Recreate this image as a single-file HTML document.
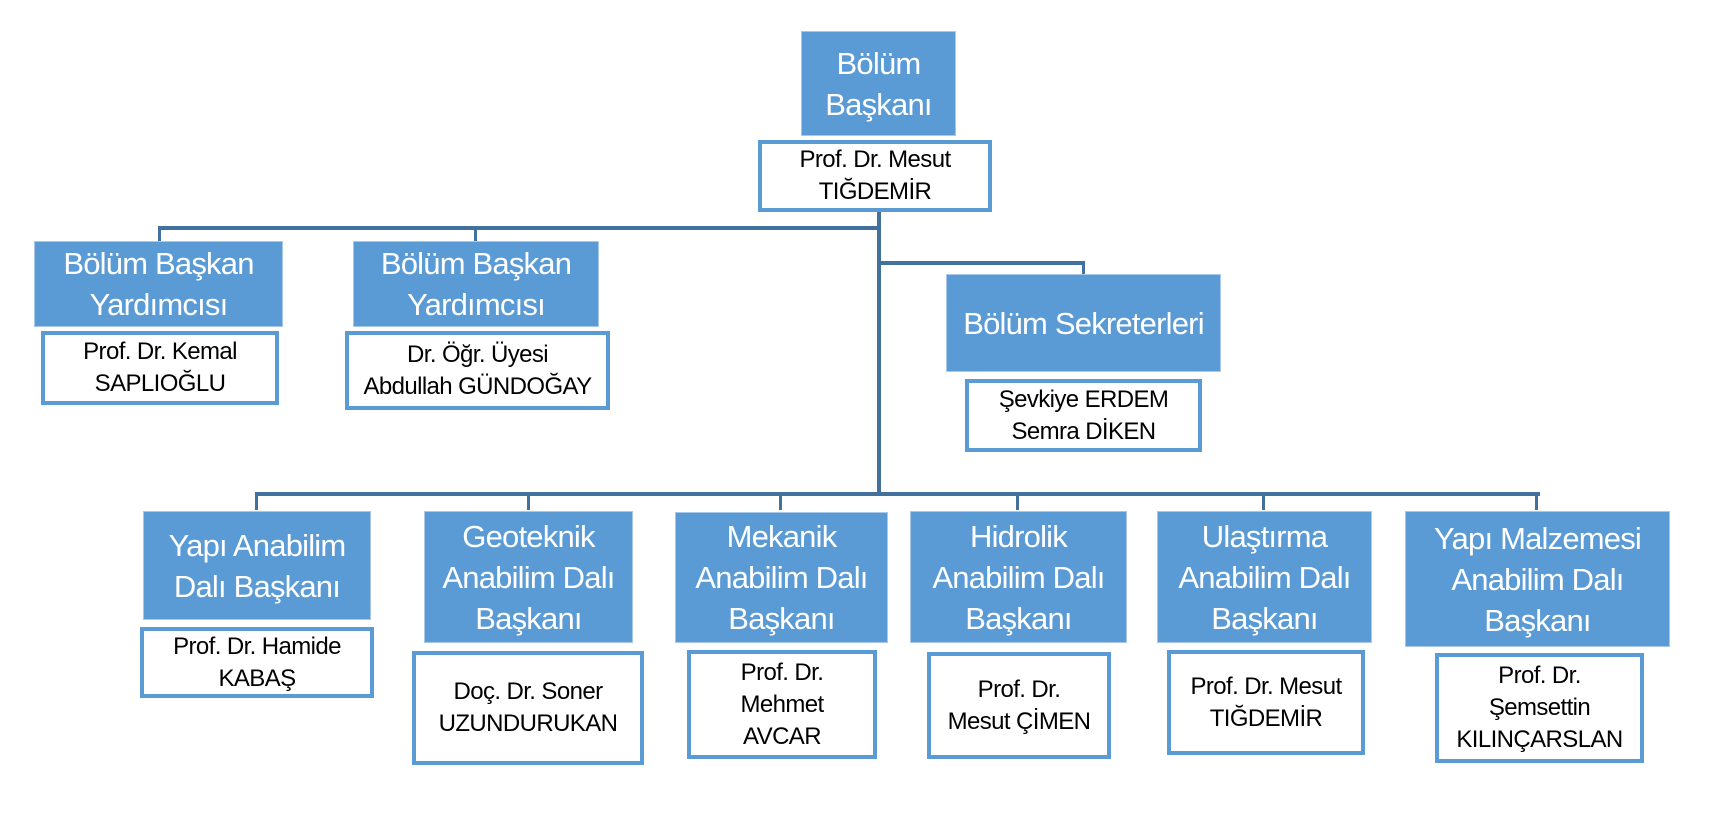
<!DOCTYPE html>
<html><head><meta charset="utf-8"><style>
html,body{margin:0;padding:0;background:#fff}
body{width:1712px;height:813px;position:relative;overflow:hidden;font-family:"Liberation Sans",sans-serif}
.b{position:absolute;background:#5B9BD5;color:#fff;display:flex;align-items:center;justify-content:center;text-align:center;font-size:31px;line-height:41px;border:1px solid #a9c8e8;box-sizing:border-box;letter-spacing:-0.8px;white-space:nowrap}
.n{position:absolute;background:#fff;color:#000;border:4px solid #5B9BD5;box-sizing:border-box;display:flex;align-items:center;justify-content:center;text-align:center;font-size:24px;line-height:32px;letter-spacing:-0.6px;white-space:nowrap}
.l{position:absolute;background:#41719C}
</style></head><body>
<div class="l" style="left:158px;top:226px;width:723px;height:4px"></div>
<div class="l" style="left:877px;top:210px;width:4px;height:286px"></div>
<div class="l" style="left:158px;top:226px;width:3px;height:15px"></div>
<div class="l" style="left:474px;top:226px;width:3px;height:15px"></div>
<div class="l" style="left:877px;top:261px;width:208px;height:4px"></div>
<div class="l" style="left:1082px;top:261px;width:3px;height:13px"></div>
<div class="l" style="left:255px;top:492px;width:1285px;height:4px"></div>
<div class="l" style="left:255px;top:492px;width:3px;height:18px"></div>
<div class="l" style="left:527px;top:492px;width:3px;height:18px"></div>
<div class="l" style="left:779px;top:492px;width:3px;height:18px"></div>
<div class="l" style="left:1016px;top:492px;width:3px;height:18px"></div>
<div class="l" style="left:1262px;top:492px;width:3px;height:18px"></div>
<div class="l" style="left:1535px;top:492px;width:3px;height:18px"></div>

<div class="b" style="left:801px;top:31px;width:155px;height:105px">Bölüm<br>Başkanı</div>
<div class="n" style="left:758px;top:140px;width:234px;height:72px">Prof. Dr. Mesut<br>TIĞDEMİR</div>

<div class="b" style="left:34px;top:241px;width:249px;height:86px">Bölüm Başkan<br>Yardımcısı</div>
<div class="n" style="left:41px;top:331px;width:238px;height:74px">Prof. Dr. Kemal<br>SAPLIOĞLU</div>

<div class="b" style="left:353px;top:241px;width:246px;height:86px">Bölüm Başkan<br>Yardımcısı</div>
<div class="n" style="left:345px;top:331px;width:265px;height:79px">Dr. Öğr. Üyesi<br>Abdullah GÜNDOĞAY</div>

<div class="b" style="left:946px;top:274px;width:275px;height:98px">Bölüm Sekreterleri</div>
<div class="n" style="left:965px;top:379px;width:237px;height:73px">Şevkiye ERDEM<br>Semra DİKEN</div>

<div class="b" style="left:143px;top:511px;width:228px;height:109px">Yapı Anabilim<br>Dalı Başkanı</div>
<div class="n" style="left:140px;top:627px;width:234px;height:71px">Prof. Dr. Hamide<br>KABAŞ</div>

<div class="b" style="left:424px;top:511px;width:209px;height:132px">Geoteknik<br>Anabilim Dalı<br>Başkanı</div>
<div class="n" style="left:412px;top:651px;width:232px;height:114px">Doç. Dr. Soner<br>UZUNDURUKAN</div>

<div class="b" style="left:675px;top:512px;width:213px;height:131px">Mekanik<br>Anabilim Dalı<br>Başkanı</div>
<div class="n" style="left:687px;top:650px;width:190px;height:109px">Prof. Dr.<br>Mehmet<br>AVCAR</div>

<div class="b" style="left:910px;top:511px;width:217px;height:132px">Hidrolik<br>Anabilim Dalı<br>Başkanı</div>
<div class="n" style="left:927px;top:652px;width:184px;height:107px">Prof. Dr.<br>Mesut ÇİMEN</div>

<div class="b" style="left:1157px;top:511px;width:215px;height:132px">Ulaştırma<br>Anabilim Dalı<br>Başkanı</div>
<div class="n" style="left:1167px;top:650px;width:198px;height:105px">Prof. Dr. Mesut<br>TIĞDEMİR</div>

<div class="b" style="left:1405px;top:511px;width:265px;height:136px">Yapı Malzemesi<br>Anabilim Dalı<br>Başkanı</div>
<div class="n" style="left:1435px;top:653px;width:209px;height:110px">Prof. Dr.<br>Şemsettin<br>KILINÇARSLAN</div>
</body></html>
